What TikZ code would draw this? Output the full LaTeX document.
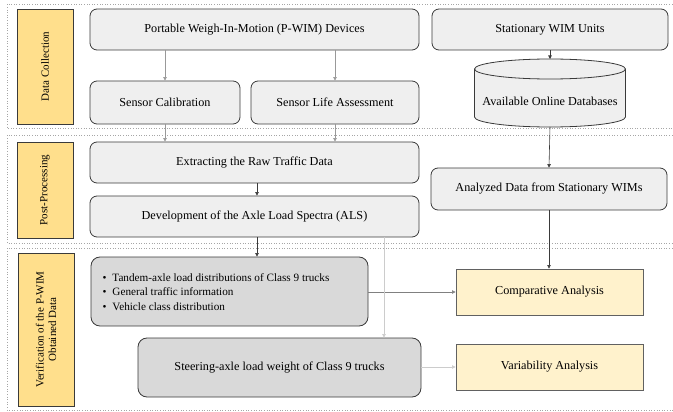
\documentclass[tikz,border=0pt]{standalone}
\usepackage{fontspec}
\setmainfont{Liberation Serif}
\usetikzlibrary{arrows.meta}
\definecolor{boxgray}{HTML}{EFEFEF}
\definecolor{boxdark}{HTML}{D9D9D9}
\definecolor{labelyellow}{HTML}{FFDF8C}
\definecolor{resultyellow}{HTML}{FFF2CC}
\definecolor{edgegray}{HTML}{3A3A3A}
\tikzset{
  x=1pt, y=-1pt,
  band/.style={draw=gray!70, dotted, line width=0.6pt},
  phase/.style={draw=edgegray, fill=labelyellow, line width=0.8pt},
  phasetext/.style={rotate=90, align=center, font=\fontsize{11}{12.5}\selectfont},
  procbox/.style={draw=edgegray, fill=boxgray, rounded corners=7pt, line width=0.8pt},
  infobox/.style={draw=edgegray, fill=boxdark, rounded corners=9pt, line width=0.8pt},
  resultbox/.style={draw=edgegray!80, fill=resultyellow, line width=0.9pt},
  boxtext/.style={font=\fontsize{12.2}{14}\selectfont},
  flow/.style={-{Triangle[length=3.5pt,width=3.5pt]}, line width=0.6pt},
}
\begin{document}
\begin{tikzpicture}
\useasboundingbox (0,0) rectangle (673,412);

% phase bands
\draw[band] (680,4) -- (7,4) -- (7,128) -- (680,128);
\draw[band] (680,135) -- (7,135) -- (7,243) -- (680,243);
\draw[band] (680,248) -- (7,248) -- (7,410) -- (680,410);

% phase labels
\draw[phase] (17,9) rectangle (73,124);
\node[phasetext] (lab1) at (45,66.5) {Data Collection};
\draw[phase] (17,142) rectangle (73,238);
\node[phasetext] (lab2) at (45,190) {Post-Processing};
\draw[phase] (18,253) rectangle (74,406);
\node[phasetext] (lab3) at (46,329.5) {Verification of the P-WIM\\Obtained Data};

% data collection
\node[procbox, minimum width=329pt, minimum height=41pt, boxtext] (pwim) at (254.5,29.5) {Portable Weigh-In-Motion (P-WIM) Devices};
\node[procbox, minimum width=236pt, minimum height=41pt, boxtext] (stat) at (550,29.5) {Stationary WIM Units};
\node[procbox, minimum width=150pt, minimum height=43pt, boxtext] (calib) at (165,102.5) {Sensor Calibration};
\node[procbox, minimum width=168pt, minimum height=43pt, boxtext] (life) at (335,102.5) {Sensor Life Assessment};

% database cylinder (y axis points down, so +90 degrees is downwards)
\coordinate (dbtop) at (550,59);
\coordinate (dbbot) at (550,127);
\draw[draw=edgegray, fill=boxgray, line width=0.8pt]
  (474.5,69) -- (474.5,117) arc[start angle=180, end angle=0, x radius=75.5, y radius=10]
  -- (625.5,69) arc[start angle=0, end angle=-180, x radius=75.5, y radius=10] -- cycle;
\draw[draw=edgegray, line width=0.8pt]
  (474.5,69) arc[start angle=180, end angle=0, x radius=75.5, y radius=10];
\node[boxtext] (db) at (550,101) {Available Online Databases};

% post-processing
\node[procbox, minimum width=329pt, minimum height=41pt, boxtext] (extract) at (254.5,162.5) {Extracting the Raw Traffic Data};
\node[procbox, minimum width=329pt, minimum height=41pt, boxtext] (als) at (254.5,216.5) {Development of the Axle Load Spectra (ALS)};
\node[procbox, minimum width=236pt, minimum height=42pt, boxtext] (analyzed) at (549,189) {Analyzed Data from Stationary WIMs};

% verification
\node[infobox, minimum width=277pt, minimum height=69pt] (info) at (229.5,291.5) {};
\node[font=\fontsize{11.2}{14.5}\selectfont, anchor=west, align=left] (infotext) at (99,292) {%
  \textbullet\hspace{6pt}Tandem-axle load distributions of Class 9 trucks\\
  \textbullet\hspace{6pt}General traffic information\\
  \textbullet\hspace{6pt}Vehicle class distribution};
\node[infobox, minimum width=283pt, minimum height=59pt, boxtext] (steer) at (279.5,367.5) {Steering-axle load weight of Class 9 trucks};
\node[resultbox, minimum width=187pt, minimum height=46pt, boxtext] (comp) at (549.5,292) {Comparative Analysis};
\node[resultbox, minimum width=187pt, minimum height=46pt, boxtext] (var) at (549.5,367) {Variability Analysis};

% connectors
\draw[flow, draw=gray!80] (pwim.south -| calib.north) -- (calib.north);
\draw[flow, draw=gray!80] (pwim.south -| life.north) -- (life.north);
\draw[flow, draw=gray!80] (calib.south) -- (extract.north -| calib.south);
\draw[flow, draw=gray!80] (life.south) -- (extract.north -| life.south);
\draw[flow, draw=edgegray] (stat.south) -- (dbtop);
\draw[flow, draw=edgegray] (dbbot) -- (analyzed.north);
\draw[flow, draw=edgegray] (extract.south -| 257,0) -- (als.north -| 257,0);
\draw[flow, draw=edgegray] (als.south -| 257,0) -- (info.north -| 257,0);
\draw[flow, draw=edgegray] (analyzed.south) -- (comp.north -| analyzed.south);
\draw[flow, draw=gray] (info.east |- comp.west) -- (comp.west);
\draw[flow, draw=gray!40] (als.south -| 384,0) -- (steer.north -| 384,0);
\draw[flow, draw=gray!40] (steer.east |- var.west) -- (var.west);
\end{tikzpicture}
\end{document}
